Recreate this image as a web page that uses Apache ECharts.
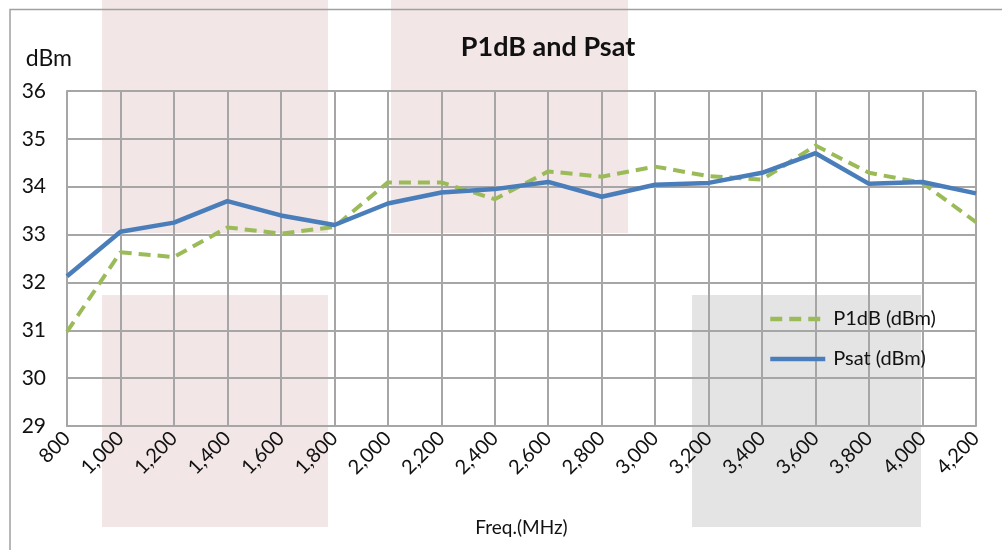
<!DOCTYPE html>
<html>
<head>
<meta charset="utf-8">
<script src="https://cdn.jsdelivr.net/npm/echarts@6/dist/echarts.min.js"></script>
<style>
html, body { margin: 0; padding: 0; background: #fff; }
#chart { width: 1002px; height: 550px; }
</style>
</head>
<body>
<div id="chart"></div>
<script>
// frequency points (MHz)
var freqs = [800, 1000, 1200, 1400, 1600, 1800, 2000, 2200, 2400, 2600, 2800, 3000, 3200, 3400, 3600, 3800, 4000, 4200]
var p1dbValues = [30.97, 32.63, 32.53, 33.15, 33.02, 33.16, 34.09, 34.09, 33.74, 34.32, 34.21, 34.42, 34.22, 34.15, 34.86, 34.29, 34.08, 33.26]
var psatValues = [32.13, 33.06, 33.25, 33.7, 33.4, 33.2, 33.65, 33.88, 33.95, 34.1, 33.79, 34.04, 34.08, 34.29, 34.7, 34.06, 34.1, 33.86]
var seriesNames = ['P1dB (dBm)', 'Psat (dBm)']

var font = 'Lato, "Open Sans", sans-serif'
var gridColor = '#a6a6a6'
var textColor = '#111'

var chart = echarts.init(document.getElementById('chart'))

// light background blocks behind the plot
var pink = '#f2e6e7'
var grey = '#e4e4e4'
var blocks = [
	{ x: 102, y: 0, w: 226, h: 233, c: pink },
	{ x: 391, y: 0, w: 237, h: 233, c: pink },
	{ x: 102, y: 295, w: 226, h: 232, c: pink },
	{ x: 692, y: 295, w: 229, h: 232, c: grey },
]
var graphics = blocks.map(function(b) {
	return {
		type: 'rect',
		z: -10,
		silent: true,
		shape: { x: b.x, y: b.y, width: b.w, height: b.h },
		style: { fill: b.c },
	}
})
// chart frame (top and left edges visible)
graphics.push({
	type: 'polyline',
	z: -5,
	silent: true,
	shape: { points: [[10, 550], [10, 9.5], [1002, 9.5]] },
	style: { stroke: '#a0a0a0', lineWidth: 1.5, fill: null },
})

var options = {
	backgroundColor: '#fff',
	animation: false,
	graphic: graphics,
	title: {
		text: 'P1dB and Psat',
		left: 543,
		textAlign: 'center',
		top: 29,
		textStyle: {
			fontFamily: font,
			fontWeight: 'bold',
			fontSize: 27,
			color: textColor,
		},
	},
	legend: {
		orient: 'vertical',
		left: 763,
		top: 304,
		itemWidth: 55,
		itemHeight: 14,
		itemGap: 20,
		data: seriesNames,
		itemStyle: { opacity: 0 },
		lineStyle: { width: 4.5 },
		textStyle: {
			fontFamily: font,
			fontSize: 20,
			color: textColor,
			padding: [0, 0, 0, 3],
		},
	},
	grid: {
		left: 67,
		right: 26,
		top: 91,
		bottom: 124,
	},
	xAxis: {
		type: 'category',
		boundaryGap: false,
		data: freqs,
		name: 'Freq.(MHz)',
		nameLocation: 'middle',
		nameGap: 92,
		nameTextStyle: {
			fontFamily: font,
			fontSize: 19,
			color: textColor,
		},
		axisLine: { lineStyle: { color: gridColor, width: 2 } },
		axisTick: { show: false },
		axisLabel: {
			interval: 0,
			rotate: 45,
			margin: 9,
			fontFamily: font,
			fontSize: 20,
			color: textColor,
			formatter: function(v) {
				return Number(v).toLocaleString('en-US')
			},
		},
		splitLine: { show: true, lineStyle: { color: gridColor, width: 2 } },
	},
	yAxis: {
		type: 'value',
		min: 29,
		max: 36,
		interval: 1,
		name: 'dBm',
		nameLocation: 'end',
		nameGap: 21,
		nameTextStyle: {
			fontFamily: font,
			fontSize: 23,
			color: textColor,
			align: 'right',
			padding: [0, -5, 0, 0],
		},
		axisLine: { show: true, lineStyle: { color: gridColor, width: 2 } },
		axisTick: { show: false },
		axisLabel: {
			margin: 21,
			fontFamily: font,
			fontSize: 21,
			color: textColor,
		},
		splitLine: { show: true, lineStyle: { color: gridColor, width: 2 } },
	},
	series: [
		{
			name: seriesNames[0],
			type: 'line',
			symbol: 'none',
			data: p1dbValues,
			z: 3,
			itemStyle: { color: '#9bbb59' },
			lineStyle: { color: '#9bbb59', width: 4, type: [12, 7] },
		},
		{
			name: seriesNames[1],
			type: 'line',
			symbol: 'none',
			data: psatValues,
			z: 4,
			itemStyle: { color: '#4a7ebb' },
			lineStyle: { color: '#4a7ebb', width: 4.5 },
		},
	],
}
chart.setOption(options, true)
</script>
</body>
</html>
